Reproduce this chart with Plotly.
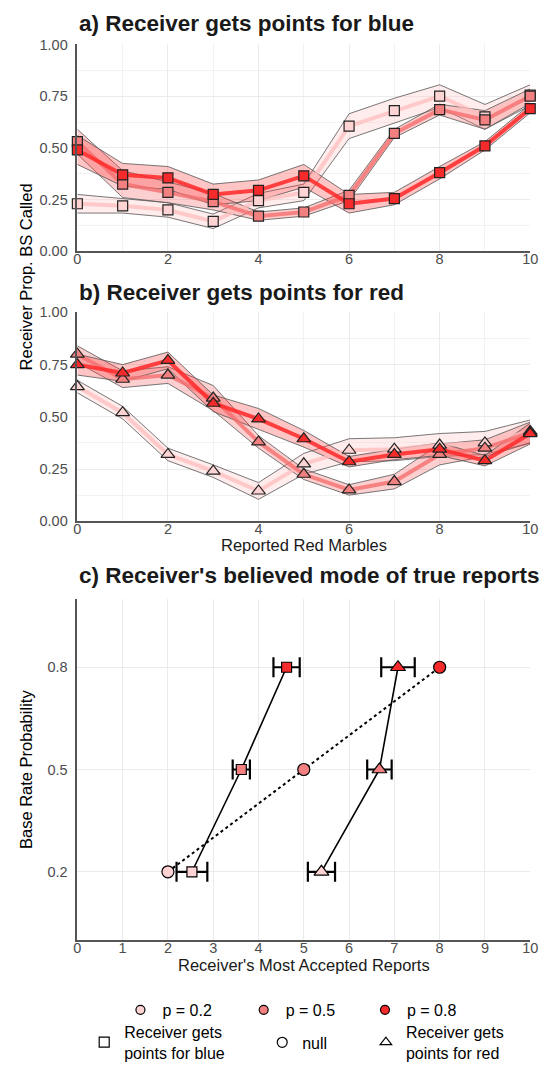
import plotly.graph_objects as go

# ---------------- data ----------------
reports = list(range(11))
p_labels = ["p = 0.2", "p = 0.5", "p = 0.8"]

# Panel a: receiver gets points for blue (mean, CI half-width)
a_p2_mean = [0.23, 0.22, 0.20, 0.145, 0.245, 0.285, 0.605, 0.68, 0.75, 0.65, 0.755]
a_p2_ci = [0.045, 0.035, 0.035, 0.035, 0.035, 0.04, 0.06, 0.06, 0.055, 0.06, 0.05]
a_p5_mean = [0.53, 0.325, 0.285, 0.24, 0.17, 0.19, 0.27, 0.57, 0.685, 0.635, 0.75]
a_p5_ci = [0.06, 0.065, 0.05, 0.04, 0.02, 0.02, 0.025, 0.02, 0.026, 0.045, 0.035]
a_p8_mean = [0.49, 0.37, 0.355, 0.275, 0.295, 0.365, 0.23, 0.255, 0.38, 0.51, 0.69]
a_p8_ci = [0.07, 0.055, 0.055, 0.05, 0.05, 0.055, 0.045, 0.03, 0.03, 0.02, 0.02]

# Panel b: receiver gets points for red
b_p2_mean = [0.645, 0.52, 0.32, 0.24, 0.145, 0.275, 0.34, 0.345, 0.365, 0.375, 0.43]
b_p2_ci = [0.03, 0.03, 0.03, 0.03, 0.04, 0.05, 0.055, 0.055, 0.055, 0.055, 0.055]
b_p5_mean = [0.80, 0.68, 0.70, 0.59, 0.38, 0.225, 0.15, 0.19, 0.32, 0.35, 0.425]
b_p5_ci = [0.04, 0.04, 0.04, 0.06, 0.03, 0.025, 0.025, 0.035, 0.05, 0.04, 0.05]
b_p8_mean = [0.75, 0.71, 0.77, 0.565, 0.49, 0.395, 0.285, 0.32, 0.345, 0.29, 0.42]
b_p8_ci = [0.05, 0.04, 0.04, 0.04, 0.05, 0.04, 0.025, 0.025, 0.03, 0.025, 0.05]

# Panel c: believed mode of true reports
base_rates = [0.2, 0.5, 0.8]
blue_mode = [2.53, 3.62, 4.62]
blue_err = [0.34, 0.19, 0.29]
red_mode = [5.39, 6.67, 7.08]
red_err = [0.30, 0.27, 0.37]
null_mode = [2, 5, 8]

# ---------------- styles ----------------
FONT = "Liberation Sans, Arial, sans-serif"
marker_fill = ["#FDD3D3", "#F28080", "#F52A2A"]
line_col = ["rgba(255,190,190,0.75)", "rgba(245,110,110,0.8)", "rgba(255,40,40,0.85)"]
band_col = ["rgba(255,200,200,0.35)", "rgba(245,120,120,0.35)", "rgba(255,60,60,0.30)"]
OUTLINE = "#555555"

fig = go.Figure()


def add_panel(xa, ya, means, cis, symbol, msize):
    for i, (m, c) in enumerate(zip(means, cis)):
        lo = [mm - cc for mm, cc in zip(m, c)]
        hi = [mm + cc for mm, cc in zip(m, c)]
        fig.add_trace(go.Scatter(x=reports + reports[::-1], y=hi + lo[::-1], fill="toself",
                                 fillcolor=band_col[i], line=dict(width=0), mode="lines",
                                 xaxis=xa, yaxis=ya, showlegend=False, hoverinfo="skip"))
        for edge in (lo, hi):
            fig.add_trace(go.Scatter(x=reports, y=edge, mode="lines",
                                     line=dict(color=OUTLINE, width=0.8),
                                     xaxis=xa, yaxis=ya, showlegend=False, hoverinfo="skip"))
    for i, m in enumerate(means):
        fig.add_trace(go.Scatter(x=reports, y=m, mode="lines",
                                 line=dict(color=line_col[i], width=4),
                                 xaxis=xa, yaxis=ya, showlegend=False, hoverinfo="skip"))
    for i, m in enumerate(means):
        fig.add_trace(go.Scatter(x=reports, y=m, mode="markers",
                                 marker=dict(symbol=symbol, size=msize, color=marker_fill[i],
                                             line=dict(color="#222222", width=1.2)),
                                 cliponaxis=False,
                                 xaxis=xa, yaxis=ya, showlegend=False))


add_panel("x", "y", [a_p2_mean, a_p5_mean, a_p8_mean], [a_p2_ci, a_p5_ci, a_p8_ci], "square", 10)
add_panel("x2", "y2", [b_p2_mean, b_p5_mean, b_p8_mean], [b_p2_ci, b_p5_ci, b_p8_ci], "triangle-up", 12)

# Panel c lines
fig.add_trace(go.Scatter(x=null_mode, y=base_rates, mode="lines",
                         line=dict(color="black", width=2, dash="dot"),
                         xaxis="x3", yaxis="y3", showlegend=False))
for xs in (blue_mode, red_mode):
    fig.add_trace(go.Scatter(x=xs, y=base_rates, mode="lines",
                             line=dict(color="black", width=1.6),
                             xaxis="x3", yaxis="y3", showlegend=False))
for xs, errs in ((blue_mode, blue_err), (red_mode, red_err)):
    fig.add_trace(go.Scatter(x=xs, y=base_rates, mode="markers",
                             marker=dict(size=0.1, color="rgba(0,0,0,0)"),
                             error_x=dict(type="data", array=errs, color="black",
                                          thickness=2.2, width=10),
                             xaxis="x3", yaxis="y3", showlegend=False))
for xs, sym, sz in ((null_mode, "circle", 12), (blue_mode, "square", 10), (red_mode, "triangle-up", 13)):
    fig.add_trace(go.Scatter(x=xs, y=base_rates, mode="markers",
                             marker=dict(symbol=sym, size=sz, color=marker_fill,
                                         line=dict(color="black", width=1.2)),
                             xaxis="x3", yaxis="y3", showlegend=False))

W, H = 548, 1077

# legend entries, one legend per item so each can be placed
shape_names = ["Receiver gets<br>points for blue", "null", "Receiver gets<br>points for red"]
shape_syms = ["square", "circle", "triangle-up"]
legend_layout = {}
row1_x = [140, 266, 390]
row2_x = [102, 284, 390]
k = 1
for i, lab in enumerate(p_labels):
    key = "legend" if k == 1 else f"legend{k}"
    fig.add_trace(go.Scatter(x=[None], y=[None], mode="markers", name=lab,
                             marker=dict(symbol="circle", size=9, color=marker_fill[i],
                                         line=dict(color="black", width=1.2)),
                             legend=key, xaxis="x3", yaxis="y3"))
    legend_layout[key] = dict(x=(row1_x[i] - 23) / W, xanchor="left",
                              y=1 - 1017 / H, yanchor="middle",
                              font=dict(family=FONT, size=16, color="black"),
                              bgcolor="rgba(0,0,0,0)", itemwidth=34)
    k += 1
for i, (nm, sym) in enumerate(zip(shape_names, shape_syms)):
    key = f"legend{k}"
    fig.add_trace(go.Scatter(x=[None], y=[None], mode="markers", name=nm,
                             marker=dict(symbol=sym, size=10, color="white",
                                         line=dict(color="black", width=1.2)),
                             legend=key, xaxis="x3", yaxis="y3"))
    legend_layout[key] = dict(x=(row2_x[i] - 20) / W, xanchor="left",
                              y=1 - 1050 / H, yanchor="middle",
                              font=dict(family=FONT, size=16, color="black"),
                              bgcolor="rgba(0,0,0,0)", itemwidth=30)
    k += 1

xdom = [75 / W, 538 / W]


def ydom(top, bot):
    return [1 - bot / H, 1 - top / H]


GRID = "#EBEBEB"
axis_common = dict(showline=True, linecolor="#555555", linewidth=1.5, gridcolor=GRID, gridwidth=1.2,
                   zeroline=False, tickfont=dict(family=FONT, size=14.5, color="#4D4D4D"))
xtick = dict(ticks="", ticklabelstandoff=-6)
ytick = dict(ticks="outside", ticklen=5, tickcolor="rgba(0,0,0,0)")

xab = dict(axis_common, **xtick, range=[0, 10], domain=xdom, tickvals=[0, 2, 4, 6, 8, 10],
           minor=dict(tickvals=[1, 3, 5, 7, 9], showgrid=True, gridcolor="#F2F2F2", gridwidth=1))
yab = dict(axis_common, **ytick, range=[0, 1], tickvals=[0, 0.25, 0.5, 0.75, 1.0],
           ticktext=["0.00", "0.25", "0.50", "0.75", "1.00"],
           minor=dict(tickvals=[0.125, 0.375, 0.625, 0.875], showgrid=True, gridcolor="#F2F2F2", gridwidth=1))

fig.update_layout(
    width=W, height=H, margin=dict(l=0, r=0, t=0, b=0),
    plot_bgcolor="white", paper_bgcolor="white",
    font=dict(family=FONT, color="black"),
    xaxis=dict(xab, anchor="y"),
    yaxis=dict(yab, domain=ydom(37, 247), anchor="x"),
    xaxis2=dict(xab, anchor="y2"),
    yaxis2=dict(yab, domain=ydom(309, 521), anchor="x2"),
    xaxis3=dict(axis_common, **xtick, range=[0, 10], domain=xdom, anchor="y3", tickvals=list(range(11))),
    yaxis3=dict(axis_common, **ytick, range=[0, 1], domain=ydom(600, 946), anchor="x3",
                tickvals=base_rates, ticktext=["0.2", "0.5", "0.8"]),
    **legend_layout,
)

ann = [
    dict(text="<b>a) Receiver gets points for blue</b>", x=75 / W, y=1 - 16 / H, size=22.5, xanchor="left"),
    dict(text="<b>b) Receiver gets points for red</b>", x=75 / W, y=1 - 289 / H, size=22.5, xanchor="left"),
    dict(text="<b>c) Receiver's believed mode of true reports</b>", x=75 / W, y=1 - 576 / H, size=22.5,
         xanchor="left"),
    dict(text="Reported Red Marbles", x=(75 + 538) / 2 / W, y=1 - 545 / H, size=16.5, xanchor="center"),
    dict(text="Receiver's Most Accepted Reports", x=(75 + 538) / 2 / W, y=1 - 971 / H, size=16.5,
         xanchor="center"),
]
for a in ann:
    fig.add_annotation(text=a["text"], x=a["x"], y=a["y"], xref="paper", yref="paper",
                       xanchor=a["xanchor"], yanchor="middle", showarrow=False,
                       font=dict(family=FONT, size=a["size"], color="#1A1A1A"))
for txt, yc in (("Receiver Prop. BS Called", 273), ("Base Rate Probability", 773)):
    fig.add_annotation(text=txt, x=22 / W, y=1 - yc / H, xref="paper", yref="paper",
                       textangle=-90, showarrow=False, xanchor="center", yanchor="middle",
                       font=dict(family=FONT, size=16.5, color="black"))

fig.write_html("out.html")
